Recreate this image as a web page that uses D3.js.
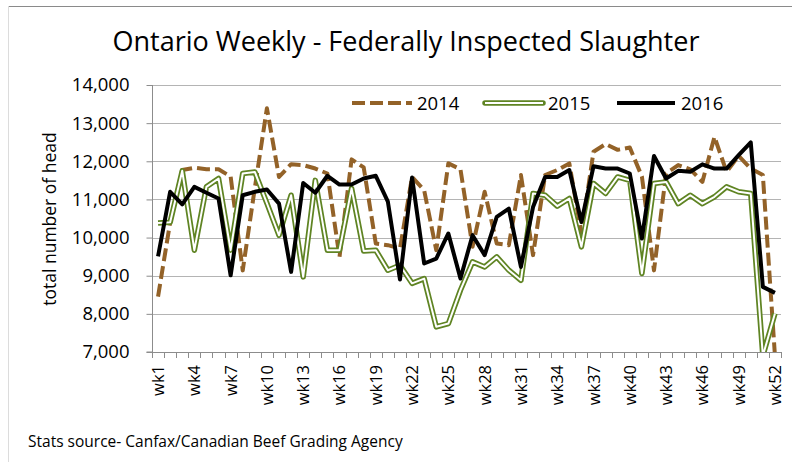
<!DOCTYPE html>
<html>
<head>
<meta charset="utf-8">
<script src="https://cdn.jsdelivr.net/npm/d3@7/dist/d3.min.js"></script>
<style>
  html, body { margin: 0; padding: 0; background: #fff; }
  svg { display: block; }
  text { font-family: "Open Sans", "Noto Sans", sans-serif; fill: #000; }
</style>
</head>
<body>
<svg id="chart" width="792" height="462"></svg>
<script>
// ---- data ----
const weeks = d3.range(1, 53).map(i => "wk" + i);
const tickWeeks = ["wk1","wk4","wk7","wk10","wk13","wk16","wk19","wk22","wk25","wk28","wk31","wk34","wk37","wk40","wk43","wk46","wk49","wk52"];
const yTicks = [7000, 8000, 9000, 10000, 11000, 12000, 13000, 14000];
const seriesNames = ["2014", "2015", "2016"];

const values2014 = [8450, 10400, 11770, 11830, 11790, 11790, 11600, 9140, 11300, 13390,
  11590, 11925, 11900, 11810, 11680, 9490, 12050, 11840, 9845, 9800,
  9710, 11590, 11240, 9670, 11945, 11790, 9760, 11200, 9845, 9800,
  11640, 9540, 11640, 11770, 11945, 10110, 12250, 12450, 12300, 12360,
  11600, 9140, 11680, 11900, 11790, 11460, 12640, 11725, 12140, 11810,
  11640, 6900];
const values2015 = [10385, 10400, 11750, 9670, 11330, 11550, 9670, 11680, 11720, 10900,
  10060, 11110, 8970, 11500, 9670, 9670, 11290, 9650, 9670, 9144,
  9275, 8800, 8925, 7660, 7745, 8620, 9363, 9230, 9494, 9144,
  8880, 11156, 11110, 10825, 11025, 9757, 11420, 11156, 11590, 11500,
  9060, 11420, 11460, 10890, 11110, 10890, 11070, 11330, 11200, 11156,
  6900, 8010];
const values2016 = [9510, 11200, 10870, 11330, 11175, 11025, 9010, 11110, 11200, 11260,
  10890, 9100, 11430, 11175, 11620, 11390, 11390, 11550, 11620, 10940,
  8900, 11575, 9320, 9450, 10107, 8925, 10063, 9540, 10545, 10760,
  9230, 10800, 11590, 11590, 11770, 10410, 11870, 11810, 11810, 11680,
  9975, 12140, 11550, 11750, 11725, 11920, 11810, 11810, 12160, 12495,
  8707, 8550];

// ---- layout ----
const svg = d3.select("#chart");
const W = 792, H = 462;
const plot = { left: 152, right: 781, top: 85, bottom: 352 };

// frame
svg.append("line").attr("x1", 8).attr("x2", W).attr("y1", 6.5).attr("y2", 6.5)
  .attr("stroke", "#8a8a8a").attr("stroke-width", 1);
svg.append("line").attr("x1", 8.5).attr("x2", 8.5).attr("y1", 6).attr("y2", H)
  .attr("stroke", "#dcdcdc").attr("stroke-width", 1);

const x = d3.scaleBand().domain(weeks).range([plot.left, plot.right]).paddingInner(0).paddingOuter(0);
const y = d3.scaleLinear().domain([7000, 14000]).range([plot.bottom, plot.top]);

// gridlines
svg.append("g").selectAll("line").data(yTicks.filter(v => v > 7000)).join("line")
  .attr("x1", plot.left).attr("x2", plot.right)
  .attr("y1", d => Math.round(y(d)) + 0.5).attr("y2", d => Math.round(y(d)) + 0.5)
  .attr("stroke", "#b4b4b4").attr("stroke-width", 1);

// y axis
const yAxis = d3.axisLeft(y).tickValues(yTicks).tickSize(6).tickPadding(6)
  .tickFormat(d3.format(","));
const gy = svg.append("g").attr("transform", `translate(${plot.left + 0.5},0)`).call(yAxis);
gy.select(".domain").attr("stroke", "#8c8c8c").attr("d", `M-6,${plot.bottom}H0V${plot.top}`);
gy.selectAll(".tick line").attr("stroke", "#8c8c8c");
gy.selectAll(".tick text").attr("font-size", "18.5px").attr("fill", "#000")
  .style("font-family", '"Open Sans", sans-serif').attr("x", -23);

// x axis: ticks at category boundaries
const xAxisG = svg.append("g");
xAxisG.append("line").attr("x1", plot.left).attr("x2", plot.right)
  .attr("y1", plot.bottom + 0.5).attr("y2", plot.bottom + 0.5)
  .attr("stroke", "#8c8c8c");
const boundaries = weeks.map(w => x(w)).concat([x(weeks[weeks.length - 1]) + x.bandwidth()]);
xAxisG.selectAll("line.tk").data(boundaries).join("line").attr("class", "tk")
  .attr("x1", d => Math.round(d) + 0.5).attr("x2", d => Math.round(d) + 0.5)
  .attr("y1", plot.bottom).attr("y2", plot.bottom + 6)
  .attr("stroke", "#8c8c8c");
xAxisG.selectAll("text").data(tickWeeks).join("text")
  .attr("transform", d => `translate(${x(d) + x.bandwidth() / 2 + 6},${plot.bottom + 13}) rotate(-90)`)
  .attr("text-anchor", "end")
  .attr("font-size", "16.5px")
  .text(d => d);

// lines
svg.append("clipPath").attr("id", "plotclip").append("rect")
  .attr("x", plot.left).attr("y", plot.top - 10).attr("width", plot.right - plot.left + 10)
  .attr("height", plot.bottom - plot.top + 10);

const line = d3.line().x((d, i) => x(weeks[i]) + x.bandwidth() / 2).y(d => y(d));
const gl = svg.append("g").attr("clip-path", "url(#plotclip)");

const brown = "#936228", green = "#5f8423", black = "#000";

gl.append("path").datum(values2014).attr("d", line)
  .attr("fill", "none").attr("stroke", brown).attr("stroke-width", 4)
  .attr("stroke-dasharray", "13,5").attr("stroke-linejoin", "round");
gl.append("path").datum(values2015).attr("d", line)
  .attr("fill", "none").attr("stroke", green).attr("stroke-width", 5.5)
  .attr("stroke-linejoin", "round");
gl.append("path").datum(values2015).attr("d", line)
  .attr("fill", "none").attr("stroke", "#fff").attr("stroke-width", 2)
  .attr("stroke-linejoin", "round");
gl.append("path").datum(values2016).attr("d", line)
  .attr("fill", "none").attr("stroke", black).attr("stroke-width", 4)
  .attr("stroke-linejoin", "round");

// legend
const legend = svg.append("g");
const legItems = [
  { name: seriesNames[0], x0: 352, x1: 412, tx: 417 },
  { name: seriesNames[1], x0: 485, x1: 543, tx: 548 },
  { name: seriesNames[2], x0: 617, x1: 675, tx: 681 }
];
const ly = 103;
legItems.forEach((it, i) => {
  if (i === 0) {
    legend.append("line").attr("x1", it.x0).attr("x2", it.x1).attr("y1", ly).attr("y2", ly)
      .attr("stroke", brown).attr("stroke-width", 4).attr("stroke-dasharray", "13,5");
  } else if (i === 1) {
    legend.append("line").attr("x1", it.x0).attr("x2", it.x1).attr("y1", ly).attr("y2", ly)
      .attr("stroke", green).attr("stroke-width", 5.5).attr("stroke-linecap", "round");
    legend.append("line").attr("x1", it.x0).attr("x2", it.x1).attr("y1", ly).attr("y2", ly)
      .attr("stroke", "#fff").attr("stroke-width", 2);
  } else {
    legend.append("line").attr("x1", it.x0).attr("x2", it.x1).attr("y1", ly).attr("y2", ly)
      .attr("stroke", black).attr("stroke-width", 4);
  }
  legend.append("text").attr("x", it.tx).attr("y", ly).attr("dy", "0.36em")
    .attr("font-size", "18.5px").text(it.name);
});

// title
svg.append("text").attr("x", 406).attr("y", 51).attr("text-anchor", "middle")
  .attr("font-size", "27px").text("Ontario Weekly - Federally Inspected Slaughter");

// y axis title
svg.append("text").attr("transform", "translate(56,219) rotate(-90)")
  .attr("text-anchor", "middle").attr("font-size", "17.5px").text("total number of head");

// source
svg.append("text").attr("x", 28).attr("y", 447).attr("font-size", "15.5px")
  .text("Stats source- Canfax/Canadian Beef Grading Agency");
</script>
</body>
</html>
